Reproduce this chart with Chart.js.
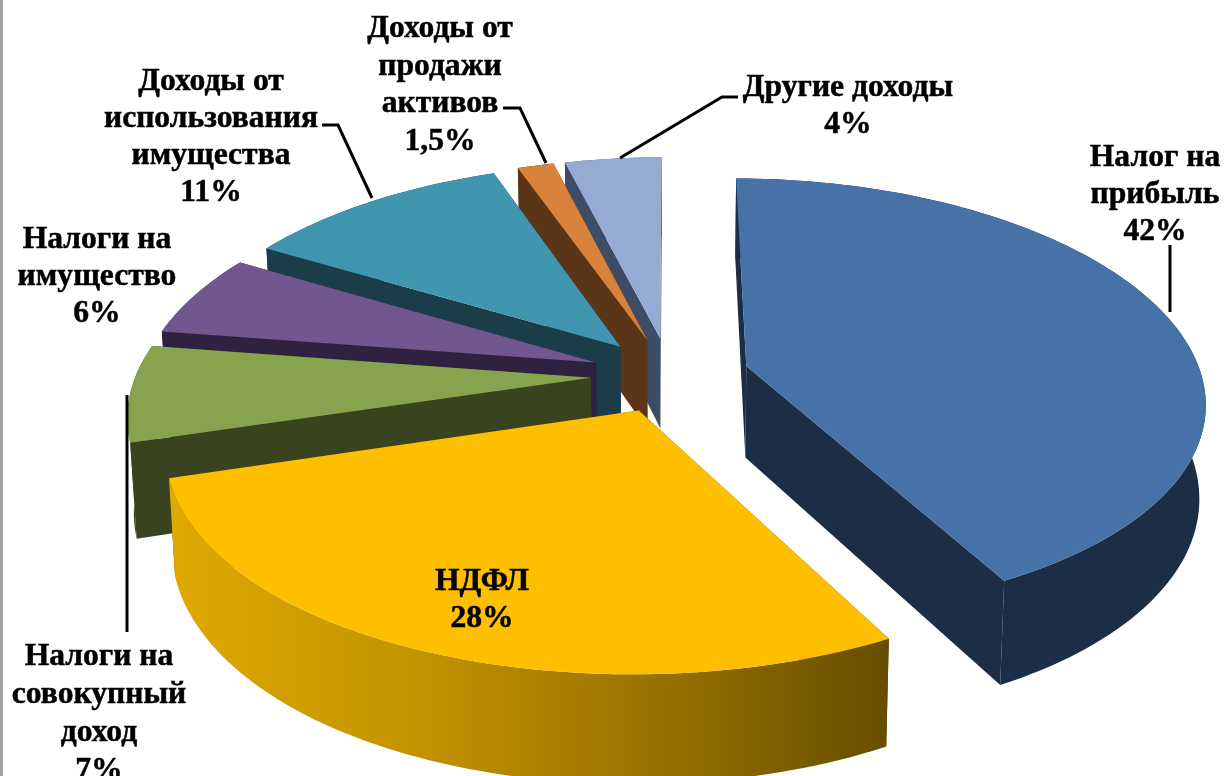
<!DOCTYPE html>
<html>
<head>
<meta charset="utf-8">
<script src="https://cdn.jsdelivr.net/npm/chart.js@4"></script>
<style>
html, body { margin: 0; padding: 0; background: #fff; overflow: hidden; }
#wrap { width: 1226px; height: 776px; position: relative; }
#edge { position: absolute; left: 0; top: 0; width: 3px; height: 776px; background: #a3a3a3; }
</style>
</head>
<body>
<div id="wrap"><canvas id="pie3d" width="1226" height="776"></canvas><div id="edge"></div></div>
<script>
var categories = ["Налог на прибыль", "НДФЛ", "Налоги на совокупный доход", "Налоги на имущество",
    "Доходы от использования имущества", "Доходы от продажи активов", "Другие доходы"];
var values = [42, 28, 7, 6, 11, 1.5, 4];
var valueLabels = ["42%", "28%", "7%", "6%", "11%", "1,5%", "4%"];

var topColors = ["#4672a7", "#fdbf00", "#87a34e", "#715690", "#4096ae", "#d9823b", "#95abd3"];
var wallColors = ["#1b2e46", "#664c00", "#3a4320", "#2f2140", "#1a3d49", "#5a3516", "#3e4d66"];

// label lines, x center, y of first line center, line step
var labelSetup = [
    {lines: ["Налог на", "прибыль"], x: 1155, y: 158, step: 37},
    {lines: ["НДФЛ"], x: 482, y: 582, step: 37},
    {lines: ["Налоги на", "совокупный", "доход"], x: 99, y: 657, step: 38},
    {lines: ["Налоги на", "имущество"], x: 97, y: 240, step: 37},
    {lines: ["Доходы от", "использования", "имущества"], x: 211, y: 82, step: 37},
    {lines: ["Доходы от", "продажи", "активов"], x: 440, y: 29, step: 37.5},
    {lines: ["Другие доходы"], x: 848, y: 88, step: 37}
];
var leaders = [
    [[1170, 245], [1170, 312]],
    null,
    [[127, 395], [127, 632]],
    null,
    [[322, 125], [338, 125], [372, 198]],
    [[503, 108], [520, 108], [546, 163]],
    [[738, 97], [722, 97], [620, 158]]
];

var RX = 455, RY = 216, PERSP_X = 0.155, PERSP_Y = 0.14, DEPTH = 92;

function project(cx, cy, u, v, z) {
    var sx = 1 / (1 - PERSP_X * v), sy = 1 / (1 - PERSP_Y * v);
    return {
        x: cx + RX * u * sx * (1 - 0.012 * z),
        y: cy + RY * v * sy + DEPTH * z * sy
    };
}

function pathOf(ctx, pts) {
    ctx.beginPath();
    pts.forEach(function(p, i) { if (i == 0) ctx.moveTo(p.x, p.y); else ctx.lineTo(p.x, p.y); });
    ctx.closePath();
}

var pie3dPlugin = {
    id: "pie3d",
    beforeDatasetDraw: function(chart) {
        var ctx = chart.ctx;
        var arcs = chart.getDatasetMeta(0).data;
        var slices = arcs.map(function(arc, i) {
            var mid = (arc.startAngle + arc.endAngle) / 2;
            var off = arc.options.offset / arc.outerRadius;
            var ou = Math.cos(mid) * off, ov = Math.sin(mid) * off;
            var rim = [], n = Math.max(4, Math.ceil((arc.endAngle - arc.startAngle) * 40));
            for (var k = 0; k <= n; k++) {
                var a = arc.startAngle + (arc.endAngle - arc.startAngle) * k / n;
                rim.push([ou + Math.cos(a), ov + Math.sin(a)]);
            }
            return {i: i, arc: arc, ou: ou, ov: ov, rim: rim, depth: Math.sin(mid)};
        });
        // far slices first
        slices.sort(function(a, b) { return a.depth - b.depth; });
        slices.forEach(function(sl) {
            var cx = sl.arc.x, cy = sl.arc.y;
            var top = sl.rim.map(function(p) { return project(cx, cy, p[0], p[1], 0); });
            var bot = sl.rim.map(function(p) { return project(cx, cy, p[0], p[1], 1); });
            var apexT = project(cx, cy, sl.ou, sl.ov, 0), apexB = project(cx, cy, sl.ou, sl.ov, 1);
            var wall = wallColors[sl.i];
            ctx.fillStyle = wall;
            pathOf(ctx, [apexT, top[0], bot[0], apexB]); ctx.fill();
            pathOf(ctx, [apexT, top[top.length - 1], bot[bot.length - 1], apexB]); ctx.fill();
            var outer = wall;
            if (sl.i == 1) {
                outer = ctx.createLinearGradient(172, 0, 893, 0);
                outer.addColorStop(0, "#e0a900");
                outer.addColorStop(0.35, "#c29200");
                outer.addColorStop(0.7, "#946f00");
                outer.addColorStop(1, "#664c00");
            }
            ctx.fillStyle = outer;
            pathOf(ctx, top.concat(bot.slice().reverse())); ctx.fill();
            ctx.fillStyle = topColors[sl.i];
            pathOf(ctx, [apexT].concat(top)); ctx.fill();
        });
        return false;
    },
    afterDatasetsDraw: function(chart) {
        var ctx = chart.ctx;
        ctx.save();
        ctx.strokeStyle = "#000";
        ctx.lineWidth = 3;
        leaders.forEach(function(line) {
            if (!line) return;
            ctx.beginPath();
            line.forEach(function(p, i) { if (i == 0) ctx.moveTo(p[0], p[1]); else ctx.lineTo(p[0], p[1]); });
            ctx.stroke();
        });
        ctx.fillStyle = "#000";
        ctx.lineWidth = 0.5;
        ctx.font = 'bold 31.6px "Liberation Serif"';
        ctx.textAlign = "center";
        ctx.textBaseline = "middle";
        labelSetup.forEach(function(lb, i) {
            lb.lines.concat([valueLabels[i]]).forEach(function(t, k) {
                ctx.fillText(t, lb.x, lb.y + k * lb.step);
                ctx.strokeText(t, lb.x, lb.y + k * lb.step);
            });
        });
        ctx.restore();
    }
};

new Chart(document.getElementById("pie3d"), {
    type: "pie",
    data: {labels: categories, datasets: [{data: values, backgroundColor: topColors, offset: 60, borderWidth: 0}]},
    options: {
        responsive: false,
        animation: false,
        layout: {padding: {left: 114, bottom: 26}},
        plugins: {legend: {display: false}, tooltip: {enabled: false}}
    },
    plugins: [pie3dPlugin]
});
</script>
</body>
</html>
